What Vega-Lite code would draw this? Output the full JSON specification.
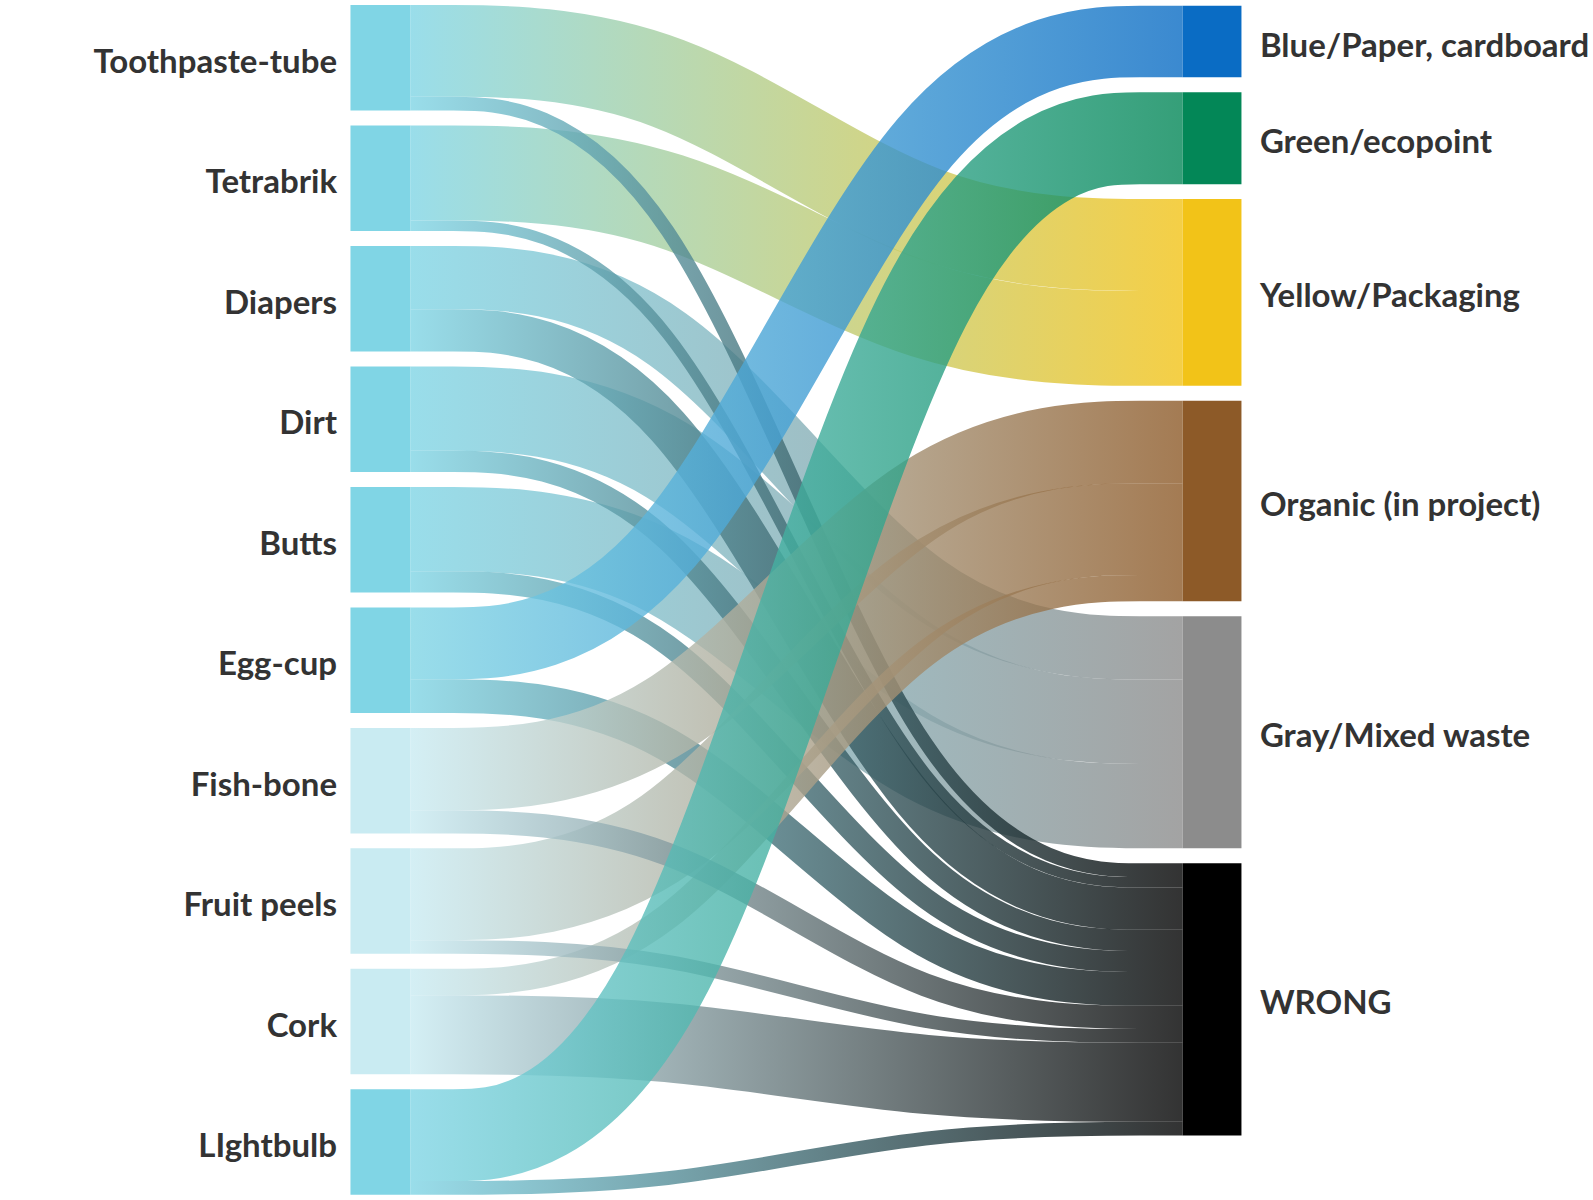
{
  "$schema": "https://vega.github.io/schema/vega-lite/v6.json",
  "width": 1593,
  "height": 1200,
  "padding": 0,
  "autosize": {"type": "none"},
  "background": "white",
  "config": {"view": {"stroke": null}, "axis": {"disable": true}},
  "datasets": {
    "links": [
      {"source": "Toothpaste-tube", "target": "Yellow/Packaging", "value": 87},
      {"source": "Toothpaste-tube", "target": "WRONG", "value": 13},
      {"source": "Tetrabrik", "target": "Yellow/Packaging", "value": 90},
      {"source": "Tetrabrik", "target": "WRONG", "value": 10},
      {"source": "Diapers", "target": "Gray/Mixed waste", "value": 60},
      {"source": "Diapers", "target": "WRONG", "value": 40},
      {"source": "Dirt", "target": "Gray/Mixed waste", "value": 80},
      {"source": "Dirt", "target": "WRONG", "value": 20},
      {"source": "Butts", "target": "Gray/Mixed waste", "value": 80},
      {"source": "Butts", "target": "WRONG", "value": 20},
      {"source": "Egg-cup", "target": "Blue/Paper, cardboard", "value": 68},
      {"source": "Egg-cup", "target": "WRONG", "value": 32},
      {"source": "Fish-bone", "target": "Organic (in project)", "value": 78},
      {"source": "Fish-bone", "target": "WRONG", "value": 22},
      {"source": "Fruit peels", "target": "Organic (in project)", "value": 87},
      {"source": "Fruit peels", "target": "WRONG", "value": 13},
      {"source": "Cork", "target": "Organic (in project)", "value": 25},
      {"source": "Cork", "target": "WRONG", "value": 75},
      {"source": "LIghtbulb", "target": "Green/ecopoint", "value": 87},
      {"source": "LIghtbulb", "target": "WRONG", "value": 13}
    ],
    "sources": [
      {"name": "Toothpaste-tube", "rank": 0},
      {"name": "Tetrabrik", "rank": 1},
      {"name": "Diapers", "rank": 2},
      {"name": "Dirt", "rank": 3},
      {"name": "Butts", "rank": 4},
      {"name": "Egg-cup", "rank": 5},
      {"name": "Fish-bone", "rank": 6},
      {"name": "Fruit peels", "rank": 7},
      {"name": "Cork", "rank": 8},
      {"name": "LIghtbulb", "rank": 9}
    ],
    "targets": [
      {"name": "Blue/Paper, cardboard", "rank": 0},
      {"name": "Green/ecopoint", "rank": 1},
      {"name": "Yellow/Packaging", "rank": 2},
      {"name": "Organic (in project)", "rank": 3},
      {"name": "Gray/Mixed waste", "rank": 4},
      {"name": "WRONG", "rank": 5}
    ]
  },
  "data": {"name": "links"},
  "transform": [
    {"lookup": "source", "from": {"data": {"name": "sources"}, "key": "name", "fields": ["rank"]}, "as": ["sRank"]},
    {"lookup": "target", "from": {"data": {"name": "targets"}, "key": "name", "fields": ["rank"]}, "as": ["tRank"]},
    {"window": [{"op": "sum", "field": "value", "as": "sCum"}], "sort": [{"field": "sRank"}, {"field": "tRank"}]},
    {"window": [{"op": "sum", "field": "value", "as": "tCum"}], "sort": [{"field": "tRank"}, {"field": "sRank"}]},
    {"calculate": "datum.sCum - datum.value + datum.sRank * 14.2", "as": "yS0"},
    {"calculate": "datum.sCum + datum.sRank * 14.2", "as": "yS1"},
    {"calculate": "datum.tCum - datum.value + datum.tRank * 14.2 + 0.6", "as": "yT0"},
    {"calculate": "datum.tCum + datum.tRank * 14.2 + 0.6", "as": "yT1"}
  ],
  "layer": [
    {
      "transform": [
        {"calculate": "datum.yS0 + datum.value / 2", "as": "p0"},
        {"calculate": "datum.p0", "as": "p1"},
        {"calculate": "datum.yT0 + datum.value / 2", "as": "p3"},
        {"calculate": "datum.p3", "as": "p2"},
        {"fold": ["p0", "p1", "p2", "p3"], "as": ["pt", "py"]},
        {"calculate": "indexof(['p0','p1','p2','p3'], datum.pt) / 3", "as": "px"},
        {"calculate": "datum.source + ' to ' + datum.target", "as": "link"},
        {"calculate": "indexof(['Fish-bone','Fruit peels','Cork'], datum.source) >= 0", "as": "pale"}
      ],
      "encoding": {
        "x": {"field": "px", "type": "quantitative", "scale": {"domain": [-0.5314, 1.5313], "nice": false, "zero": false}, "axis": null},
        "y": {"field": "py", "type": "quantitative", "scale": {"domain": [-4.74, 1132.7], "nice": false, "zero": false, "reverse": true}, "axis": null},
        "detail": {"field": "link", "type": "nominal"},
        "strokeWidth": {"field": "value", "type": "quantitative", "scale": {"type": "linear", "domain": [0, 100], "range": [0, 105.5], "zero": true}, "legend": null}
      },
      "layer": [
        {
          "transform": [{"filter": {"field": "target", "equal": "Yellow/Packaging"}}],
          "mark": {"type": "line", "interpolate": "basis", "strokeOpacity": 0.8, "stroke": {"gradient": "linear", "stops": [{"offset": 0, "color": "#80d5e5"}, {"offset": 1, "color": "#f2c318"}]}}
        },
        {
          "transform": [{"filter": {"field": "target", "equal": "Gray/Mixed waste"}}],
          "mark": {"type": "line", "interpolate": "basis", "strokeOpacity": 0.8, "stroke": {"gradient": "linear", "stops": [{"offset": 0, "color": "#80d5e5"}, {"offset": 1, "color": "#8c8c8c"}]}}
        },
        {
          "transform": [{"filter": "datum.target == 'WRONG' && !datum.pale"}],
          "mark": {"type": "line", "interpolate": "basis", "strokeOpacity": 0.8, "stroke": {"gradient": "linear", "stops": [{"offset": 0, "color": "#80d5e5"}, {"offset": 1, "color": "#000000"}]}}
        },
        {
          "transform": [{"filter": {"field": "target", "equal": "Blue/Paper, cardboard"}}],
          "mark": {"type": "line", "interpolate": "basis", "strokeOpacity": 0.8, "stroke": {"gradient": "linear", "stops": [{"offset": 0, "color": "#80d5e5"}, {"offset": 1, "color": "#0a6cc4"}]}}
        },
        {
          "transform": [{"filter": {"field": "target", "equal": "Organic (in project)"}}],
          "mark": {"type": "line", "interpolate": "basis", "strokeOpacity": 0.8, "stroke": {"gradient": "linear", "stops": [{"offset": 0, "color": "#c9ebf2"}, {"offset": 1, "color": "#8d5a28"}]}}
        },
        {
          "transform": [{"filter": "datum.target == 'WRONG' && datum.pale"}],
          "mark": {"type": "line", "interpolate": "basis", "strokeOpacity": 0.8, "stroke": {"gradient": "linear", "stops": [{"offset": 0, "color": "#c9ebf2"}, {"offset": 1, "color": "#000000"}]}}
        },
        {
          "transform": [{"filter": {"field": "target", "equal": "Green/ecopoint"}}],
          "mark": {"type": "line", "interpolate": "basis", "strokeOpacity": 0.8, "stroke": {"gradient": "linear", "stops": [{"offset": 0, "color": "#80d5e5"}, {"offset": 1, "color": "#038757"}]}}
        }
      ]
    },
    {
      "transform": [
        {"aggregate": [{"op": "min", "field": "yS0", "as": "top"}, {"op": "max", "field": "yS1", "as": "bot"}], "groupby": ["source"]},
        {"calculate": "(datum.top + datum.bot) / 2", "as": "mid"}
      ],
      "layer": [
        {
          "mark": {"type": "rect"},
          "encoding": {
            "x": {"datum": -0.0776, "type": "quantitative", "scale": {"domain": [-0.5314, 1.5313], "nice": false, "zero": false}, "axis": null},
            "x2": {"datum": 0},
            "y": {"field": "top", "type": "quantitative", "scale": {"domain": [-4.74, 1132.7], "nice": false, "zero": false, "reverse": true}, "axis": null},
            "y2": {"field": "bot"},
            "color": {"field": "source", "type": "nominal", "legend": null,
              "scale": {"domain": ["Toothpaste-tube", "Tetrabrik", "Diapers", "Dirt", "Butts", "Egg-cup", "Fish-bone", "Fruit peels", "Cork", "LIghtbulb", "Blue/Paper, cardboard", "Green/ecopoint", "Yellow/Packaging", "Organic (in project)", "Gray/Mixed waste", "WRONG"],
                "range": ["#80d5e5", "#80d5e5", "#80d5e5", "#80d5e5", "#80d5e5", "#80d5e5", "#c9ebf2", "#c9ebf2", "#c9ebf2", "#80d5e5", "#0a6cc4", "#038757", "#f2c318", "#8d5a28", "#8c8c8c", "#000000"]}}
          }
        },
        {
          "mark": {"type": "text", "align": "right", "baseline": "middle", "dy": 5, "font": "Lato", "fontSize": 33, "fontWeight": "bold", "color": "#333333"},
          "encoding": {
            "x": {"datum": -0.095, "type": "quantitative", "scale": {"domain": [-0.5314, 1.5313], "nice": false, "zero": false}, "axis": null},
            "y": {"field": "mid", "type": "quantitative", "scale": {"domain": [-4.74, 1132.7], "nice": false, "zero": false, "reverse": true}, "axis": null},
            "text": {"field": "source", "type": "nominal"}
          }
        }
      ]
    },
    {
      "transform": [
        {"aggregate": [{"op": "min", "field": "yT0", "as": "top"}, {"op": "max", "field": "yT1", "as": "bot"}], "groupby": ["target"]},
        {"calculate": "(datum.top + datum.bot) / 2", "as": "mid"}
      ],
      "layer": [
        {
          "mark": {"type": "rect"},
          "encoding": {
            "x": {"datum": 1, "type": "quantitative", "scale": {"domain": [-0.5314, 1.5313], "nice": false, "zero": false}, "axis": null},
            "x2": {"datum": 1.0761},
            "y": {"field": "top", "type": "quantitative", "scale": {"domain": [-4.74, 1132.7], "nice": false, "zero": false, "reverse": true}, "axis": null},
            "y2": {"field": "bot"},
            "color": {"field": "target", "type": "nominal", "legend": null,
              "scale": {"domain": ["Toothpaste-tube", "Tetrabrik", "Diapers", "Dirt", "Butts", "Egg-cup", "Fish-bone", "Fruit peels", "Cork", "LIghtbulb", "Blue/Paper, cardboard", "Green/ecopoint", "Yellow/Packaging", "Organic (in project)", "Gray/Mixed waste", "WRONG"],
                "range": ["#80d5e5", "#80d5e5", "#80d5e5", "#80d5e5", "#80d5e5", "#80d5e5", "#c9ebf2", "#c9ebf2", "#c9ebf2", "#80d5e5", "#0a6cc4", "#038757", "#f2c318", "#8d5a28", "#8c8c8c", "#000000"]}}
          }
        },
        {
          "mark": {"type": "text", "align": "left", "baseline": "middle", "dy": 5, "font": "Lato", "fontSize": 33, "fontWeight": "bold", "color": "#333333"},
          "encoding": {
            "x": {"datum": 1.1, "type": "quantitative", "scale": {"domain": [-0.5314, 1.5313], "nice": false, "zero": false}, "axis": null},
            "y": {"field": "mid", "type": "quantitative", "scale": {"domain": [-4.74, 1132.7], "nice": false, "zero": false, "reverse": true}, "axis": null},
            "text": {"field": "target", "type": "nominal"}
          }
        }
      ]
    }
  ]
}
